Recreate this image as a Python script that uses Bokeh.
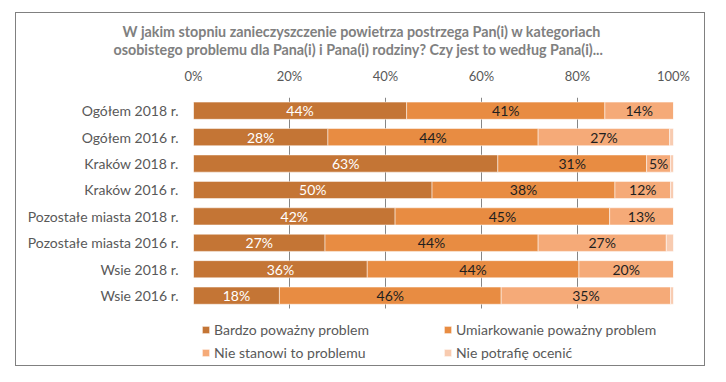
from bokeh.plotting import figure
from bokeh.models import (Range1d, PrintfTickFormatter, ColumnDataSource,
                          Legend, LegendItem, Title, FixedTicker)
from bokeh.core.properties import value
from bokeh.embed import file_html
from bokeh.resources import INLINE

# ---- data ----
categories = ["Ogółem 2018 r.", "Ogółem 2016 r.", "Kraków 2018 r.", "Kraków 2016 r.",
              "Pozostałe miasta 2018 r.", "Pozostałe miasta 2016 r.", "Wsie 2018 r.", "Wsie 2016 r."]
series_names = ["Bardzo poważny problem", "Umiarkowanie poważny problem",
                "Nie stanowi to problemu", "Nie potrafię ocenić"]
bardzo = [44.4, 28.0, 63.4, 49.7, 42.0, 27.4, 36.2, 17.9]
umiarkowanie = [41.3, 43.8, 31.0, 38.1, 44.7, 44.4, 44.1, 46.2]
nie_stanowi = [14.3, 27.4, 5.0, 11.6, 13.3, 26.7, 19.7, 35.3]
nie_potrafie = [0.0, 0.8, 0.6, 0.6, 0.0, 1.5, 0.0, 0.6]
x_ticks = [0, 20, 40, 60, 80, 100]
title_lines = ["W jakim stopniu zanieczyszczenie powietrza postrzega Pan(i) w kategoriach",
               "osobistego problemu dla Pana(i) i Pana(i) rodziny? Czy jest to według Pana(i)..."]

colors = ["#C47535", "#E88C42", "#F5AA78", "#F8CBB0"]
FONT = "Lato"
TXT = "#595959"

n = len(categories)
ypos = [n - i for i in range(n)]          # first category on top
keys = ["bardzo", "umiarkowanie", "nie_stanowi", "nie_potrafie"]
src = ColumnDataSource(dict(y=ypos, cat=categories, bardzo=bardzo, umiarkowanie=umiarkowanie,
                            nie_stanowi=nie_stanowi, nie_potrafie=nie_potrafie))

# y range: bar rows on top, room for the legend underneath
p = figure(width=690, height=354, output_backend="svg", toolbar_location=None,
           y_range=Range1d(-1.53, n + 0.5), x_range=Range1d(0, 100),
           x_axis_location="above", min_border_left=177, min_border_right=33,
           min_border_top=84, min_border_bottom=5, title=None)
p.margin = (12, 0, 0, 15)
p.styles = {"border": "1px solid #808080"}
p.outline_line_color = None
p.background_fill_color = "white"
p.border_fill_color = "white"

rs = p.hbar_stack(keys, y="y", height=0.65, color=colors, source=src,
                  line_color="white", line_width=0.5)

# segment labels
lx, ly, lt, lc = [], [], [], []
series_vals = [bardzo, umiarkowanie, nie_stanowi]
txt_cols = ["white", "#1f1f1f", "#1f1f1f"]
for i in range(n):
    left = 0.0
    for s, vals in enumerate(series_vals):
        v = vals[i]
        lx.append(left + v / 2)
        ly.append(ypos[i])
        lt.append(f"{round(v)}%")
        lc.append(txt_cols[s])
        left += v
lsrc = ColumnDataSource(dict(x=lx, y=ly, t=lt, c=lc))
p.text(x="x", y="y", text="t", text_color="c", source=lsrc, text_align="center",
       text_baseline="middle", text_font=value(FONT), text_font_size=value("14px"))

# axes
xa = p.xaxis[0]
xa.ticker = FixedTicker(ticks=x_ticks)
xa.formatter = PrintfTickFormatter(format="%d%%")
xa.axis_line_color = None
xa.major_tick_line_color = None
xa.minor_tick_line_color = None
xa.major_tick_out = 0
xa.major_tick_in = 0
xa.major_label_standoff = 14
xa.major_label_text_font = FONT
xa.major_label_text_font_size = "13px"
xa.major_label_text_color = TXT

ya = p.yaxis[0]
ya.ticker = FixedTicker(ticks=ypos)
ya.major_label_overrides = {k: c for k, c in zip(ypos, categories)}
ya.axis_line_color = None
ya.major_tick_line_color = None
ya.minor_tick_line_color = None
ya.major_tick_out = 0
ya.major_tick_in = 0
ya.major_label_standoff = 15
ya.major_label_text_font = FONT
ya.major_label_text_font_size = "14px"
ya.major_label_text_color = TXT

p.ygrid.grid_line_color = None
p.xgrid.ticker = FixedTicker(ticks=x_ticks)
p.xgrid.grid_line_color = "#868686"
p.xgrid.grid_line_width = 1
try:
    p.xgrid.cross_bounds = (min(ypos) - 0.5, max(ypos) + 0.5)
except Exception:
    pass

# title (two lines; line 2 added first = nearest the plot)
for txt, off, so in zip(title_lines[::-1], [-80, -71], [14, -16]):
    p.add_layout(Title(text=txt, align="left", offset=off, standoff=so, text_font=FONT,
                       text_font_style="bold", text_font_size="14.3px", text_color="#808080"),
                 "above")

# legend (inside the frame, under the bars)
legend = Legend(items=[LegendItem(label=nm, renderers=[r]) for nm, r in zip(series_names, rs)],
                orientation="horizontal", ncols=2, location=(8, 1),
                glyph_width=9, glyph_height=9, label_standoff=4, label_width=224,
                label_height=18, spacing=5, padding=0, margin=0,
                border_line_color=None, background_fill_alpha=0,
                label_text_font=FONT, label_text_font_size="14px", label_text_color=TXT)
p.add_layout(legend, "center")

open("out.html", "w").write(file_html(p, INLINE))
